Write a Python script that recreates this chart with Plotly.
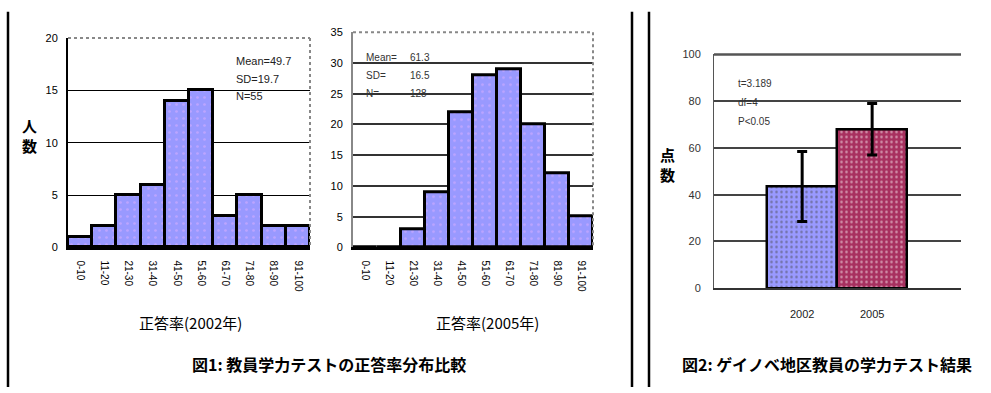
import plotly.graph_objects as go

W, H = 991, 393

bins = ["0-10", "11-20", "21-30", "31-40", "41-50", "51-60", "61-70", "71-80", "81-90", "91-100"]
counts_2002 = [1, 2, 5, 6, 14, 15, 3, 5, 2, 2]
counts_2005 = [0, 0, 3, 9, 22, 28, 29, 20, 12, 5]
years = ["2002", "2005"]
mean_scores = [43.5, 68]
score_err = [15, 11]
bar_colors = ["#9999ff", "#a8305f"]

stats_2002 = ["Mean=49.7", "SD=19.7", "N=55"]
stats_2005_lbl = ["Mean=", "SD=", "N="]
stats_2005_val = ["61.3", "16.5", "128"]
ttest = ["t=3.189", "df=4", "P<0.05"]

FONT = "Liberation Sans, Arial, sans-serif"
JFONT = "Noto Sans CJK JP, sans-serif"

def px(x):
    return x / W

def py(y):
    return 1 - y / H

fig = go.Figure()

pat_blue = dict(shape=".", fgcolor="#e0b0ff", size=7, solidity=0.12)
fig.add_trace(go.Bar(x=bins, y=counts_2002, xaxis="x", yaxis="y",
                     marker=dict(color="#9999ff", line=dict(color="black", width=3), pattern=pat_blue),
                     showlegend=False))
fig.add_trace(go.Bar(x=bins, y=counts_2005, xaxis="x2", yaxis="y2",
                     marker=dict(color="#9999ff", line=dict(color="black", width=3), pattern=pat_blue),
                     showlegend=False))
fig.add_trace(go.Bar(x=years, y=mean_scores, xaxis="x3", yaxis="y3",
                     marker=dict(color=bar_colors, line=dict(color="black", width=2.5),
                                 pattern=dict(shape=".", fgcolor=["#e0b0ff", "#ff4477"], size=5, solidity=0.2)),
                     error_y=dict(type="data", array=score_err, color="black", thickness=3, width=5),
                     showlegend=False))

tickfont = dict(family=FONT, size=11, color="black")

common_x = dict(type="category", showgrid=False, zeroline=False, showline=True,
                linecolor="black", linewidth=3, ticks="outside", tickcolor="rgba(0,0,0,0)",
                tickfont=dict(family=FONT, size=10, color="black"), fixedrange=True)

fig.update_layout(
    width=W, height=H,
    margin=dict(l=0, r=0, t=0, b=0),
    paper_bgcolor="white", plot_bgcolor="white",
    bargap=0,
    showlegend=False,
    xaxis=dict(common_x, domain=[px(68), px(310)], anchor="y", range=[-0.5, 9.5],
               tickangle=90, ticklen=8),
    yaxis=dict(domain=[py(249), py(33)], anchor="x", range=[0, 20], dtick=5,
               showgrid=True, gridcolor="black", gridwidth=1, zeroline=False,
               showline=True, linecolor="black", linewidth=2,
               ticks="outside", ticklen=6, tickcolor="rgba(0,0,0,0)", tickfont=tickfont),
    xaxis2=dict(common_x, domain=[px(353), px(593)], anchor="y2", range=[-0.5, 9.5],
                tickangle=90, ticklen=8),
    yaxis2=dict(domain=[py(249), py(27)], anchor="x2", range=[0, 35], dtick=5,
                showgrid=True, gridcolor="#333333", gridwidth=1.5, zeroline=False,
                showline=True, linecolor="#888888", linewidth=2,
                ticks="outside", ticklen=6, tickcolor="rgba(0,0,0,0)", tickfont=tickfont),
    xaxis3=dict(type="category", domain=[px(714), px(961)], anchor="y3", range=[-1.26, 2.27],
                showgrid=False, zeroline=False, showline=True, linecolor="#333333", linewidth=2,
                ticks="outside", ticklen=15, tickcolor="rgba(0,0,0,0)",
                tickfont=dict(family=FONT, size=11, color="#222222")),
    yaxis3=dict(domain=[py(291), py(50)], anchor="x3", range=[0, 100], dtick=20,
                showgrid=True, gridcolor="#444444", gridwidth=2, zeroline=False,
                showline=True, linecolor="#555555", linewidth=1,
                ticks="outside", ticklen=10, tickcolor="rgba(0,0,0,0)",
                tickfont=dict(family=FONT, size=11, color="#333333")),
)

shapes = []
# plot-area borders (dotted gray)
shapes.append(dict(type="line", xref="paper", yref="paper", x0=px(68), x1=px(310), y0=py(33), y1=py(33),
                   line=dict(color="#888888", width=2, dash="dot")))
shapes.append(dict(type="line", xref="paper", yref="paper", x0=px(310), x1=px(310), y0=py(33), y1=py(249),
                   line=dict(color="#888888", width=2, dash="dot")))
shapes.append(dict(type="line", xref="paper", yref="paper", x0=px(353), x1=px(593), y0=py(27), y1=py(27),
                   line=dict(color="#888888", width=2, dash="dot")))
shapes.append(dict(type="line", xref="paper", yref="paper", x0=px(593), x1=px(593), y0=py(27), y1=py(249),
                   line=dict(color="#888888", width=2, dash="dot")))
# top border of right plot (at 100)
shapes.append(dict(type="line", xref="paper", yref="paper", x0=px(714), x1=px(961), y0=py(50), y1=py(50),
                   line=dict(color="#555555", width=2.5)))
# separator lines
for xv in [8, 632, 649]:
    shapes.append(dict(type="line", xref="paper", yref="paper", x0=px(xv), x1=px(xv), y0=py(6), y1=py(393),
                       line=dict(color="black", width=2.5)))
fig.update_layout(shapes=shapes)

ann = []
def text(x, y, s, size=11, color="black", family=FONT, xanchor="left", yanchor="middle"):
    ann.append(dict(xref="paper", yref="paper", x=px(x), y=py(y), text=s, showarrow=False,
                    font=dict(family=family, size=size, color=color), xanchor=xanchor, yanchor=yanchor))

for i, s in enumerate(stats_2002):
    text(234, 57 + 18 * i, s, size=11, color="#222222")
for i, (l, v) in enumerate(zip(stats_2005_lbl, stats_2005_val)):
    text(364, 53 + 18.5 * i, l, size=10, color="#333333")
    text(408, 53 + 18.5 * i, v, size=10, color="#333333")
for i, s in enumerate(ttest):
    text(736, 80 + 19.5 * i, s, size=10, color="#333333")

text(190, 326, "正答率(2002年)", size=15, family=JFONT, xanchor="center")
text(487, 326, "正答率(2005年)", size=15, family=JFONT, xanchor="center")
text(29, 134, "<b>人</b><br><b>数</b>", size=15, family=JFONT, xanchor="center")
text(667, 164, "<b>点</b><br><b>数</b>", size=15, family=JFONT, xanchor="center")
text(329, 369, "<b>図1: 教員学力テストの正答率分布比較</b>", size=16, family=JFONT, xanchor="center")
text(827, 369, "<b>図2: ゲイノベ地区教員の学力テスト結果</b>", size=16, family=JFONT, xanchor="center")

fig.update_layout(annotations=ann)

fig.write_html("out.html")
